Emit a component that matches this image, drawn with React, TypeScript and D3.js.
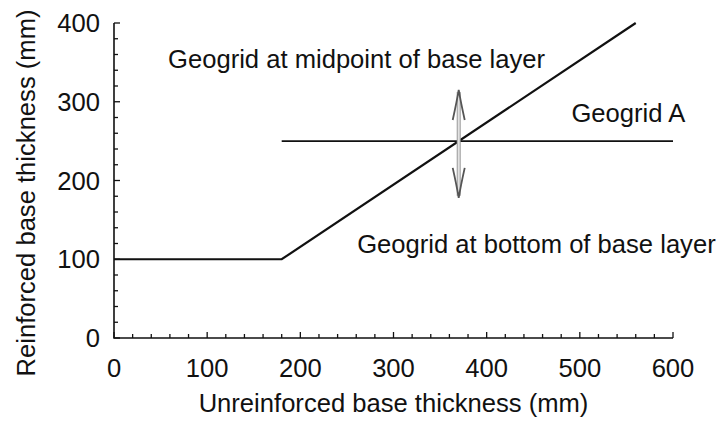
import { useRef, useEffect } from "react";
import * as d3 from "d3";

// main relationship: unreinforced vs reinforced base thickness
const unreinforced = [0, 180, 560];
const reinforced = [100, 100, 400];

// Geogrid A horizontal line
const geogridAX = [180, 600];
const geogridAY = 250;

// double arrow at the intersection
const arrowX = 370;
const arrowY = [178, 315];

const xTicks = [0, 100, 200, 300, 400, 500, 600];
const yTicks = [0, 100, 200, 300, 400];

const annotations = [
  { text: "Geogrid at midpoint of base layer", x: 58, y: 343 },
  { text: "Geogrid A", x: 491, y: 274 },
  { text: "Geogrid at bottom of base layer", x: 261, y: 108 },
];

const FONT = "'Liberation Sans', Arial, sans-serif";
const FS = 25.6;

const App = () => {
  const svgRef = useRef<SVGSVGElement>(null);

  useEffect(() => {
    const svg = d3.select(svgRef.current);
    svg.selectAll("*").remove();

    const width = 718;
    const height = 421;
    const margin = { top: 23, right: 45, bottom: 83, left: 114 };
    const innerWidth = width - margin.left - margin.right;
    const innerHeight = height - margin.top - margin.bottom;

    const chart = svg
      .append("g")
      .attr("transform", `translate(${margin.left}, ${margin.top})`);

    const xScale = d3.scaleLinear().domain([0, 600]).range([0, innerWidth]);
    const yScale = d3.scaleLinear().domain([0, 400]).range([innerHeight, 0]);

    const ink = "#111";

    // axis lines
    chart
      .append("path")
      .attr("d", `M0,0V${innerHeight}H${innerWidth}`)
      .attr("fill", "none")
      .attr("stroke", ink)
      .attr("stroke-width", 1.6);

    // minor ticks every 20
    const minorX = d3.range(0, 601, 20).filter((v) => v % 100 !== 0);
    const minorY = d3.range(0, 401, 20).filter((v) => v % 100 !== 0);

    chart
      .selectAll(".xminor")
      .data(minorX)
      .join("line")
      .attr("x1", (d) => xScale(d))
      .attr("x2", (d) => xScale(d))
      .attr("y1", innerHeight)
      .attr("y2", innerHeight - 4)
      .attr("stroke", ink)
      .attr("stroke-width", 1.3);

    chart
      .selectAll(".xmajor")
      .data(xTicks)
      .join("line")
      .attr("x1", (d) => xScale(d))
      .attr("x2", (d) => xScale(d))
      .attr("y1", innerHeight)
      .attr("y2", innerHeight - 6)
      .attr("stroke", ink)
      .attr("stroke-width", 1.3);

    chart
      .selectAll(".yminor")
      .data(minorY)
      .join("line")
      .attr("x1", 0)
      .attr("x2", 4)
      .attr("y1", (d) => yScale(d))
      .attr("y2", (d) => yScale(d))
      .attr("stroke", ink)
      .attr("stroke-width", 1.3);

    chart
      .selectAll(".ymajor")
      .data(yTicks)
      .join("line")
      .attr("x1", 0)
      .attr("x2", 6)
      .attr("y1", (d) => yScale(d))
      .attr("y2", (d) => yScale(d))
      .attr("stroke", ink)
      .attr("stroke-width", 1.3);

    // tick labels
    chart
      .selectAll(".xlabel")
      .data(xTicks)
      .join("text")
      .attr("x", (d) => xScale(d))
      .attr("y", innerHeight + 39)
      .attr("text-anchor", "middle")
      .attr("font-family", FONT)
      .attr("font-size", FS)
      .attr("fill", ink)
      .text((d) => d);

    chart
      .selectAll(".ylabel")
      .data(yTicks)
      .join("text")
      .attr("x", -14)
      .attr("y", (d) => yScale(d))
      .attr("dy", "0.36em")
      .attr("text-anchor", "end")
      .attr("font-family", FONT)
      .attr("font-size", FS)
      .attr("fill", ink)
      .text((d) => d);

    // axis titles
    svg
      .append("text")
      .attr("x", margin.left + innerWidth / 2)
      .attr("y", 412)
      .attr("text-anchor", "middle")
      .attr("font-family", FONT)
      .attr("font-size", FS)
      .attr("fill", ink)
      .text("Unreinforced base thickness (mm)");

    svg
      .append("text")
      .attr("transform", "translate(35, 193) rotate(-90)")
      .attr("text-anchor", "middle")
      .attr("font-family", FONT)
      .attr("font-size", FS)
      .attr("fill", ink)
      .text("Reinforced base thickness (mm)");

    // Geogrid A line
    chart
      .append("line")
      .attr("x1", xScale(geogridAX[0]))
      .attr("x2", xScale(geogridAX[1]))
      .attr("y1", yScale(geogridAY))
      .attr("y2", yScale(geogridAY))
      .attr("stroke", ink)
      .attr("stroke-width", 1.7);

    // main line
    const lineGenerator = d3
      .line<number>()
      .x((d) => xScale(d))
      .y((_, i) => yScale(reinforced[i]));

    chart
      .append("path")
      .attr("d", lineGenerator(unreinforced))
      .attr("fill", "none")
      .attr("stroke", ink)
      .attr("stroke-width", 2.2);

    // double arrow
    const ax = xScale(arrowX);
    const yTop = yScale(arrowY[1]);
    const yBot = yScale(arrowY[0]);
    chart
      .append("line")
      .attr("x1", ax)
      .attr("x2", ax)
      .attr("y1", yTop + 2)
      .attr("y2", yBot - 2)
      .attr("stroke", "#9a9a9a")
      .attr("stroke-width", 4);
    chart
      .append("line")
      .attr("x1", ax)
      .attr("x2", ax)
      .attr("y1", yTop + 2)
      .attr("y2", yBot - 2)
      .attr("stroke", "#e2e2e2")
      .attr("stroke-width", 2);

    const headLen = 30;
    const headW = 6;
    const heads = [
      { tip: yTop, dir: 1 },
      { tip: yBot, dir: -1 },
    ];
    chart
      .selectAll(".arrowhead")
      .data(heads)
      .join("path")
      .attr(
        "d",
        (h) =>
          `M${ax - headW},${h.tip + h.dir * headLen} Q${ax - 2},${h.tip + h.dir * 12} ${ax},${h.tip} Q${ax + 2},${h.tip + h.dir * 12} ${ax + headW},${h.tip + h.dir * headLen}`
      )
      .attr("fill", "none")
      .attr("stroke", "#555")
      .attr("stroke-width", 1.8);

    // annotations
    chart
      .selectAll(".annotation")
      .data(annotations)
      .join("text")
      .attr("x", (d) => xScale(d.x))
      .attr("y", (d) => yScale(d.y))
      .attr("font-family", FONT)
      .attr("font-size", FS)
      .attr("fill", ink)
      .text((d) => d.text);
  }, []);

  return (
    <svg
      ref={svgRef}
      width={718}
      height={421}
      style={{ position: "absolute", left: 0, top: 0, background: "#fff" }}
    ></svg>
  );
};

export default App;
